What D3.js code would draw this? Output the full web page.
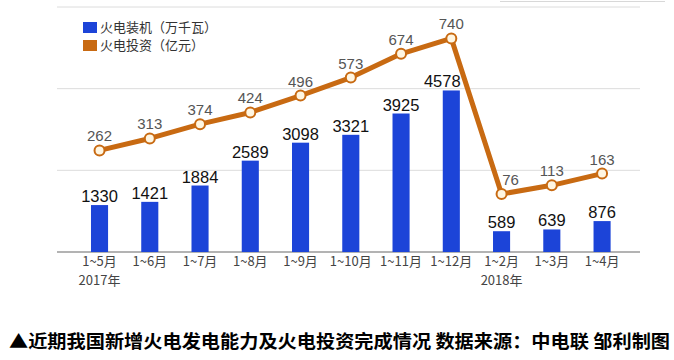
<!DOCTYPE html>
<html>
<head>
<meta charset="utf-8">
<script src="https://cdn.jsdelivr.net/npm/d3@7"></script>
<style>
  html, body { margin: 0; padding: 0; background: #fff; }
  svg { display: block; }
</style>
</head>
<body>
<svg id="chart" width="674" height="360"></svg>
<script>
const categories = ["1~5月","1~6月","1~7月","1~8月","1~9月","1~10月","1~11月","1~12月","1~2月","1~3月","1~4月"];
const yearLabels = ["2017年","","","","","","","","2018年","",""];
const capacity = [1330,1421,1884,2589,3098,3321,3925,4578,589,639,876];
const investment = [262,313,374,424,496,573,674,740,76,113,163];
const legendLabels = ["火电装机（万千瓦）","火电投资（亿元）"];
const titleText = "▲近期我国新增火电发电能力及火电投资完成情况 数据来源：中电联 邹利制图";

const BLUE = "#1c44d8", ORANGE = "#c86a12";
const numFont = "'Liberation Sans', Arial, sans-serif";
const cjkFont = "'Noto Sans CJK SC', 'Liberation Sans', sans-serif";

const svg = d3.select("#chart");

const x = d3.scaleBand().domain(categories).range([74.4, 627.2]).paddingInner(0.66).paddingOuter(0.33);
const yBar = d3.scaleLinear().domain([0, 7000]).range([252, 5]);
const yLine = d3.scaleLinear().domain([0, 900]).range([211.8, 0.9]);
const grid = d3.scaleLinear().domain([0, 3]).range([252, 7]);

// faint top artifact line
svg.append("line").attr("x1", 500).attr("x2", 665).attr("y1", 1.5).attr("y2", 1.5)
  .attr("stroke", "#d8d8d8").attr("stroke-width", 1);

// gridlines
svg.append("g").selectAll("line").data([1, 2, 3]).join("line")
  .attr("x1", 57).attr("x2", 640)
  .attr("y1", d => grid(d)).attr("y2", d => grid(d))
  .attr("stroke", "#dcdcdc").attr("stroke-width", 1);

// baseline
svg.append("line").attr("x1", 57).attr("x2", 640).attr("y1", grid(0)).attr("y2", grid(0))
  .attr("stroke", "#9a9a9a").attr("stroke-width", 1.5);

// bars
svg.append("g").selectAll("rect").data(capacity).join("rect")
  .attr("x", (d, i) => x(categories[i]))
  .attr("width", x.bandwidth())
  .attr("y", d => yBar(d))
  .attr("height", d => yBar(0) - yBar(d))
  .attr("fill", BLUE);

const cx = (i) => x(categories[i]) + x.bandwidth() / 2;

// bar labels
svg.append("g").selectAll("text").data(capacity).join("text")
  .attr("x", (d, i) => cx(i) + (i === 7 ? -9 : 0))
  .attr("y", d => yBar(d) - 3)
  .attr("text-anchor", "middle")
  .attr("font-family", numFont).attr("font-size", 16.5)
  .attr("fill", "#111")
  .text(d => d);

// line
svg.append("path")
  .datum(investment)
  .attr("d", d3.line().x((d, i) => cx(i)).y(d => yLine(d)))
  .attr("fill", "none").attr("stroke", ORANGE).attr("stroke-width", 5)
  .attr("stroke-linejoin", "round");

svg.append("g").selectAll("circle").data(investment).join("circle")
  .attr("cx", (d, i) => cx(i)).attr("cy", d => yLine(d)).attr("r", 5)
  .attr("fill", "#fff6e2").attr("stroke", ORANGE).attr("stroke-width", 2);

svg.append("g").selectAll("text").data(investment).join("text")
  .attr("x", (d, i) => cx(i) + (i === 8 ? 9 : 0))
  .attr("y", d => yLine(d) - 9)
  .attr("text-anchor", "middle")
  .attr("font-family", numFont).attr("font-size", 15)
  .attr("fill", "#555")
  .text(d => d);

// x labels
svg.append("g").selectAll("text").data(categories).join("text")
  .attr("x", (d, i) => cx(i)).attr("y", 266)
  .attr("text-anchor", "middle")
  .attr("font-family", cjkFont).attr("font-size", 13)
  .attr("fill", "#444")
  .text(d => d);
svg.append("g").selectAll("text").data(yearLabels).join("text")
  .attr("x", (d, i) => cx(i)).attr("y", 285)
  .attr("text-anchor", "middle")
  .attr("font-family", cjkFont).attr("font-size", 13)
  .attr("fill", "#444")
  .text(d => d);

// legend
const lg = svg.append("g");
[BLUE, ORANGE].forEach((c, i) => {
  lg.append("rect").attr("x", 83).attr("y", 22 + i * 18).attr("width", 14).attr("height", 11).attr("fill", c);
  lg.append("text").attr("x", 100).attr("y", 32 + i * 18)
    .attr("font-family", cjkFont).attr("font-size", 13).attr("fill", "#333")
    .text(legendLabels[i]);
});

// title
svg.append("text").attr("x", 9).attr("y", 348)
  .attr("font-family", cjkFont).attr("font-size", 18).attr("font-weight", "bold")
  .attr("fill", "#000")
  .attr("textLength", 661).attr("lengthAdjust", "spacingAndGlyphs")
  .text(titleText);
</script>
</body>
</html>
